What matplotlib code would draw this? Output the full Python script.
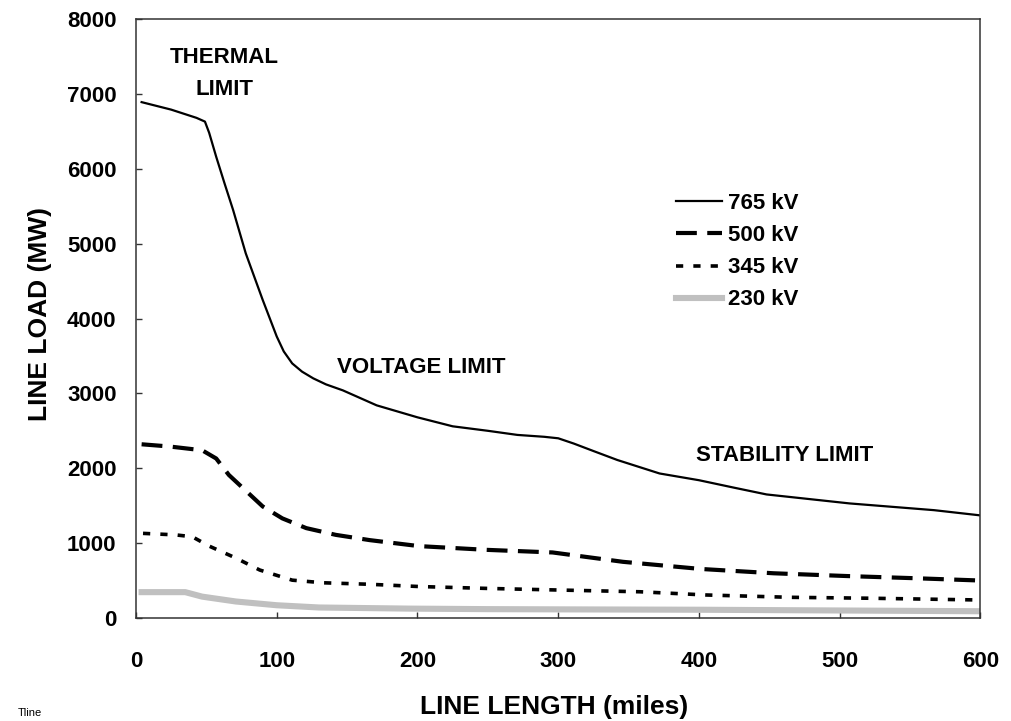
import matplotlib
matplotlib.use('Agg')
import matplotlib.pyplot as plt

plt.rcParams['font.family'] = ['Liberation Sans', 'DejaVu Sans']

# data (miles, MW)
x_765 = [4, 25, 43, 49, 52, 57, 63, 69, 78, 90, 100, 105, 111, 118, 126, 135, 147, 171, 200, 225, 250, 271, 290, 300, 311, 325, 342, 372, 400, 425, 448, 507, 567, 600]
y_765 = [6890, 6790, 6680, 6630, 6480, 6160, 5800, 5450, 4870, 4250, 3760, 3560, 3400, 3290, 3200, 3120, 3040, 2840, 2680, 2560, 2500, 2445, 2420, 2400, 2330, 2230, 2110, 1930, 1840, 1740, 1650, 1530, 1440, 1370]

x_500 = [4, 24, 47, 57, 66, 80, 90, 104, 121, 142, 166, 201, 249, 296, 346, 401, 453, 505, 555, 600]
y_500 = [2320, 2290, 2240, 2130, 1910, 1665, 1490, 1330, 1200, 1110, 1040, 960, 910, 875, 750, 655, 597, 560, 530, 500]

x_345 = [5, 28, 40, 52, 71, 88, 111, 133, 166, 201, 249, 296, 358, 405, 465, 524, 600]
y_345 = [1130, 1110, 1085, 960, 800, 640, 505, 470, 450, 420, 395, 375, 350, 307, 276, 263, 240]

x_230 = [4, 35, 47, 71, 100, 130, 194, 250, 300, 400, 500, 600]
y_230 = [345, 345, 285, 220, 170, 140, 125, 118, 115, 110, 100, 90]

labels = ['765 kV', '500 kV', '345 kV', '230 kV']

fig = plt.figure(figsize=(10.11, 7.21), dpi=100)
ax = fig.add_axes([0.1345, 0.1429, 0.8353, 0.8307])

ax.plot(x_765, y_765, color='black', lw=1.6, label=labels[0])
ax.plot(x_500, y_500, color='black', lw=3, dashes=(5, 2.5), label=labels[1])
ax.plot(x_345, y_345, color='black', lw=2.6, dashes=(2, 2.8), label=labels[2])
ax.plot(x_230, y_230, color='#c0c0c0', lw=4.4, label=labels[3])

ax.set_xlim(0, 600)
ax.set_ylim(0, 8000)
ax.set_xticks(range(0, 601, 100))
ax.set_yticks(range(0, 8001, 1000))

for s in ax.spines.values():
    s.set_color('#333333')
    s.set_linewidth(1.1)

ax.tick_params(direction='in', length=4, width=1, colors='#333333', labelcolor='black', labelsize=16)
ax.tick_params(axis='x', pad=24)
ax.tick_params(axis='y', pad=14)
for lab in ax.get_xticklabels() + ax.get_yticklabels():
    lab.set_fontweight('bold')

# region labels
ax.text(63, 7480, 'THERMAL', ha='center', va='center', fontsize=16, fontweight='bold')
ax.text(63, 7060, 'LIMIT', ha='center', va='center', fontsize=16, fontweight='bold')
ax.text(203, 3340, 'VOLTAGE LIMIT', ha='center', va='center', fontsize=16, fontweight='bold')
ax.text(461, 2175, 'STABILITY LIMIT', ha='center', va='center', fontsize=16, fontweight='bold')

leg = ax.legend(loc='upper left', bbox_to_anchor=(0.626, 0.728), frameon=False,
                prop={'size': 16, 'weight': 'bold'}, handlelength=2.1,
                handletextpad=0.25, labelspacing=0.5, borderpad=0)

fig.text(40 / 1011, 0.565, 'LINE LOAD (MW)', rotation=90, ha='center', va='center',
         fontsize=19, fontweight='bold')
fig.text(554 / 1011, 0.02, 'LINE LENGTH (miles)', ha='center', va='center',
         fontsize=19, fontweight='bold')
fig.text(0.018, 0.011, 'Tline', ha='left', va='center', fontsize=8)

fig.savefig('out.png', dpi=100)
